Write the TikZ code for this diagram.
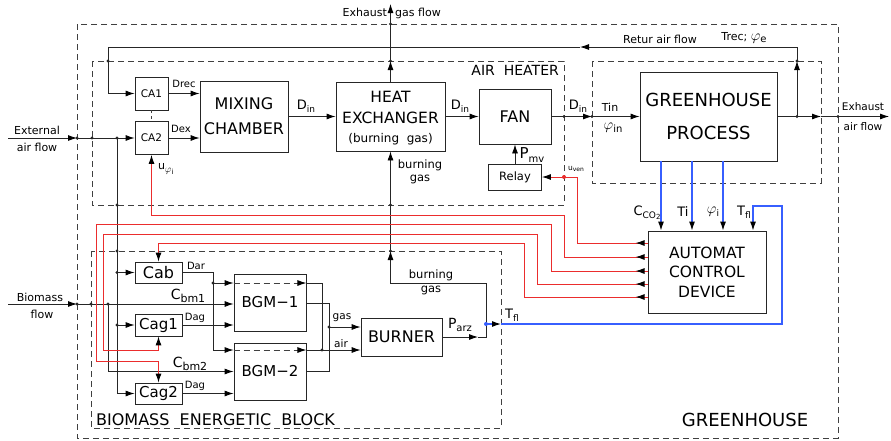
\documentclass[tikz,border=0pt]{standalone}
\usepackage{fix-cm}
\usepackage{fontspec}
\setmainfont{DejaVu Sans}
\usetikzlibrary{arrows.meta}
\definecolor{myred}{RGB}{235,45,45}
\definecolor{myblue}{RGB}{55,95,255}
\newcommand{\fsz}[1]{\fontsize{#1}{#1}\selectfont}
\newcommand{\mysub}[2][8]{\raisebox{-0.4ex}{\fsz{#1}#2}}
\begin{document}
\begin{tikzpicture}[x=1pt,y=-1pt,
 ln/.style={line width=0.85pt,draw=black!85},
 arr/.style={-{Latex[length=9pt,width=6pt,color=black]}},
 dsh/.style={line width=0.85pt,draw=black!75,dash pattern=on 6pt off 4pt},
 blk/.style={draw=black!85,line width=0.85pt,inner sep=0pt,align=center},
 rl/.style={line width=0.9pt,draw=myred},
 bl/.style={line width=1.1pt,draw=myblue},
 lbl/.style={inner sep=0pt}]
\useasboundingbox (0,0) rectangle (891,440);
% containers
\draw[dsh] (77,24) rectangle (838,438);
\draw[dsh] (92,61) rectangle (564,205);
\draw[dsh] (592,61) rectangle (821,183);
\draw[dsh] (91,251) rectangle (501,428);
% blocks
\node[blk,minimum width=33,minimum height=33,font=\fsz{10.5}] (ca1) at (151.5,93.5) {CA1};
\node[blk,minimum width=33,minimum height=33,font=\fsz{10.5}] (ca2) at (151.5,138) {CA2};
\node[blk,minimum width=88,minimum height=71,font=\fontsize{16}{25}\selectfont] (mix) at (244,116.5) {MIXING\\CHAMBER};
\node[blk,minimum width=109,minimum height=69] (he) at (390.5,116.5) {};
\node[lbl,font=\fsz{15.5}] (heA) at (390.5,97) {HEAT};
\node[lbl,font=\fsz{15.5}] (heB) at (390.5,118) {EXCHANGER};
\node[lbl,font=\fsz{12}] (heC) at (390.5,139) {(burning\ \ gas)};
\node[blk,minimum width=72,minimum height=55,font=\fsz{16}] (fan) at (515,116.5) {FAN};
\node[blk,minimum width=53,minimum height=26,font=\fsz{11.5}] (relay) at (515,177) {Relay};
\node[blk,minimum width=137,minimum height=89,font=\fontsize{18}{33}\selectfont] (ghp) at (708.5,116.5) {GREENHOUSE\\PROCESS};
\node[blk,minimum width=118,minimum height=82,font=\fontsize{15.5}{19.5}\selectfont] (acd) at (707,272) {AUTOMAT\\CONTROL\\DEVICE};
\node[blk,minimum width=47,minimum height=21,font=\fsz{16}] (cab) at (158.5,272.5) {Cab};
\node[blk,minimum width=47,minimum height=22,font=\fsz{15}] (cag1) at (158.5,325) {Cag1};
\node[blk,minimum width=47,minimum height=21,font=\fsz{15}] (cag2) at (158.5,393.5) {Cag2};
\node[blk,minimum width=72,minimum height=57,font=\fsz{15}] (bgm1) at (270,302.5) {BGM−1};
\node[blk,minimum width=72,minimum height=57,font=\fsz{15}] (bgm2) at (270,371.5) {BGM−2};
\node[blk,minimum width=81,minimum height=38,font=\fsz{16}] (burner) at (401.5,337) {BURNER};
% coordinates
\coordinate (extIn) at (8,138);
\coordinate (extB) at (77,138);
\coordinate (airJ) at (117,138);
\coordinate (retJ) at (797,116.5);
\coordinate (bioIn) at (8,304);
\coordinate (bioB) at (77,304);
\coordinate (bioJ) at (108,304);
\coordinate (tflJ) at (486,324);
\coordinate (tflB) at (501,324);
\coordinate (tflT) at (753,206);
\coordinate (sx1) at (661,0);
\coordinate (sx2) at (692,0);
\coordinate (sx3) at (723,0);
% external air
\draw[ln,arr] (extIn) -- (extB);
\draw[ln,arr] (extB) -- (ca2.west);
\draw[ln,arr] (airJ) -- (117,393.5) -- (cag2.west);
\draw[ln,arr] (117,272.5) -- (cab.west);
\draw[ln,arr] (117,325) -- (cag1.west);
% return air
\draw[ln,arr] (retJ) -- (797,61);
\draw[ln,arr] (797,61) -- (797,47) -- (580,47);
\draw[ln,arr] (580,47) -- (108,47) -- (108,93.5) -- (ca1.west);
\draw[ln,arr] (ca1.east) -- (ca1.east -| mix.west);
\draw[ln,arr] (ca2.east) -- (ca2.east -| mix.west);
\draw[dsh,dash pattern=on 3pt off 3pt] (ca1.south) -- (ca2.north);
% main flow
\draw[ln,arr] (mix.east) -- (he.west);
\draw[ln,arr] (he.east) -- (fan.west);
\draw[ln,arr] (fan.east) -- (592,116.5);
\draw[ln,arr] (592,116.5) -- (ghp.west);
\draw[ln,arr] (ghp.east) -- (821,116.5);
\draw[ln,arr] (821,116.5) -- (889,116.5);
% exhaust gas
\draw[ln,arr] (he.north) -- (390.5,61);
\draw[ln,arr] (390.5,61) -- (390.5,4);
% burning gas
\draw[ln,arr] (burner.east) -- (478,337);
\draw[ln,arr] (478,337) -- (486,337) -- (486,283) -- (390.5,283) -- (390.5,251);
\draw[ln,arr] (390.5,251) -- (he.south);
% relay
\draw[ln,arr] (relay.north) -- (fan.south);
% biomass
\draw[ln,arr] (bioIn) -- (bioB);
\draw[ln,arr] (bioB) -- (bgm1.west |- bioB);
\draw[ln,arr] (bioJ) -- (108,371.5) -- (bgm2.west |- 0,371.5);
\draw[ln,arr] (cab.east) -- (213,272.5) -- (213,350) -- (bgm2.west |- 0,350);
\draw[ln,arr] (213,283) -- (bgm1.west |- 0,283);
\draw[dsh,arr] (bgm1.west |- 0,283) -- (bgm1.east |- 0,283);
\draw[dsh,arr] (bgm2.west |- 0,350) -- (bgm2.east |- 0,350);
\draw[ln,arr] (cag1.east) -- (bgm1.west |- cag1.east);
\draw[ln,arr] (cag2.east) -- (bgm2.west |- cag2.east);
\draw[ln] (bgm1.east |- 0,283) -- (322,283) -- (322,350);
\draw[ln,arr] (bgm2.east |- 0,350) -- (burner.west |- 0,350);
\draw[ln] (bgm1.east |- 0,303) -- (329,303) -- (329,371.5) -- (bgm2.east |- 0,371.5);
\draw[ln,arr] (329,327) -- (burner.west |- 0,327);
% blue signals
\draw[bl,arr] (tflJ) -- (tflB);
\draw[bl,arr] (tflB) -- (782,324) -- (782,206) -- (tflT) -- (tflT |- acd.north);
\draw[bl,arr] (ghp.south -| sx1) -- (acd.north -| sx1);
\draw[bl,arr] (ghp.south -| sx2) -- (acd.north -| sx2);
\draw[bl,arr] (ghp.south -| sx3) -- (acd.north -| sx3);
% red signals
\draw[rl,arr] (acd.west |- 0,243) -- (577,243) -- (577,177) -- (relay.east);
\draw[rl,arr] (acd.west |- 0,257) -- (564,257) -- (564,215) -- (151.5,215) -- (ca2.south);
\draw[rl,arr] (acd.west |- 0,271) -- (551,271) -- (551,224) -- (96,224) -- (96,361) -- (158.5,361) -- (cag2.north);
\draw[rl,arr] (acd.west |- 0,284) -- (537,284) -- (537,234) -- (103,234) -- (103,350) -- (158.5,350) -- (cag1.south);
\draw[rl,arr] (acd.west |- 0,297) -- (524,297) -- (524,243) -- (158.5,243) -- (cab.north);
\foreach \yy in {243,257,271,284,297}
  \draw[rl,arr] (acd.west |- 0,\yy) -- ++(-12,0);
% junction dots
\foreach \px/\py in {77/138,92/138,117/138,117/205,117/251,117/272.5,117/325,108/61,797/116.5,797/61,564/116.5,592/116.5,838/116.5,390.5/61,390.5/24,390.5/251,390.5/205,77/304,91/304,108/304,213/283,322/350,329/327}
  \fill[black!85] (\px,\py) circle (1.7pt);
\fill[myblue] (tflJ) circle (2pt);
\fill[myred] (564,177) circle (2pt);
% labels
\node[lbl,font=\fsz{11}] (t1) at (37,130) {External};
\node[lbl,font=\fsz{11}] (t2) at (37,147) {air flow};
\node[lbl,font=\fsz{11}] (t3) at (40,297) {Biomass};
\node[lbl,font=\fsz{11}] (t4) at (42,314) {flow};
\node[lbl,font=\fsz{10}] (t5) at (184,84) {Drec};
\node[lbl,font=\fsz{10}] (t6) at (181,129) {Dex};
\node[lbl,font=\fsz{11}] (t7) at (166,169) {u\mysub[10]{$\varphi_{\mathrm{i}}$}};
\node[lbl,font=\fsz{13}] (t8) at (306,106) {D\mysub[9]{in}};
\node[lbl,font=\fsz{13}] (t9) at (460,106) {D\mysub[9]{in}};
\node[lbl,font=\fsz{13}] (t10) at (578,106) {D\mysub[9]{in}};
\node[lbl,font=\fsz{11}] (t11) at (610,107) {Tin};
\node[lbl,font=\fsz{15}] (t12) at (613,128) {$\varphi$\mysub[10]{in}};
\node[lbl,font=\fsz{10.5}] (t13) at (863,107) {Exhaust};
\node[lbl,font=\fsz{10.5}] (t14) at (863,127) {air flow};
\node[lbl,font=\fsz{11},anchor=base east] (t15) at (387,16.5) {Exhaust};
\node[lbl,font=\fsz{11},anchor=base west] (t16) at (395,16.5) {gas flow};
\node[lbl,font=\fsz{11}] (t17) at (660,39) {Retur air flow};
\node[lbl,font=\fsz{11}] (t18) at (744,38) {Trec; {\fsz{15}$\varphi$}\mysub[10]{e}};
\node[lbl,font=\fsz{14},anchor=east] (t19) at (559,70) {AIR\ \ HEATER};
\node[lbl,font=\fsz{15}] (t20) at (532,155) {P\mysub[10]{mv}};
\node[lbl,font=\fsz{7.5}] (t21) at (576,169) {u\mysub[6]{ven}};
\node[lbl,font=\fsz{11.5}] (t22) at (420,165) {burning};
\node[lbl,font=\fsz{11.5}] (t23) at (420,179) {gas};
\node[lbl,font=\fsz{11.5}] (t24) at (431,275) {burning};
\node[lbl,font=\fsz{11.5}] (t25) at (431,290) {gas};
\node[lbl,font=\fsz{13}] (t26) at (647,213) {C\mysub[9]{CO\raisebox{-0.3ex}{\fsz{7}2}}};
\node[lbl,font=\fsz{13}] (t27) at (683,212) {Ti};
\node[lbl,font=\fsz{15}] (t28) at (713,212) {$\varphi$\mysub[9]{i}};
\node[lbl,font=\fsz{13}] (t29) at (744,212) {T\mysub[9]{fl}};
\node[lbl,font=\fsz{10}] (t30) at (196,266) {Dar};
\node[lbl,font=\fsz{14}] (t31) at (188,296) {C\mysub[11]{bm1}};
\node[lbl,font=\fsz{10}] (t32) at (195,318) {Dag};
\node[lbl,font=\fsz{14}] (t33) at (190,364) {C\mysub[11]{bm2}};
\node[lbl,font=\fsz{10}] (t34) at (195,386) {Dag};
\node[lbl,font=\fsz{10.5}] (t35) at (342,318) {gas};
\node[lbl,font=\fsz{10.5}] (t36) at (341,344) {air};
\node[lbl,font=\fsz{14}] (t37) at (460,325) {P\mysub[10]{arz}};
\node[lbl,font=\fsz{13}] (t38) at (512,315) {T\mysub[9]{fl}};
\node[lbl,font=\fsz{18}] (t39) at (745,420) {GREENHOUSE};
\node[lbl,font=\fsz{16},anchor=west] (t40) at (96,420) {BIOMASS\ \ ENERGETIC\ \ BLOCK};
\end{tikzpicture}
\end{document}
